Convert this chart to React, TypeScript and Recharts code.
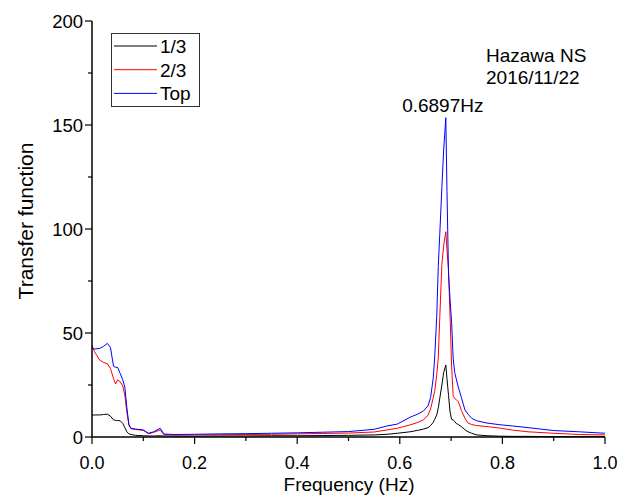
import React from 'react'
import { LineChart, Line, XAxis, YAxis, ReferenceDot } from 'recharts'

const FONT = '"Liberation Sans", Arial, sans-serif'

// frequency (Hz) sample points
const freq = [
  0, 0.005, 0.015, 0.022, 0.03, 0.036, 0.042, 0.046, 0.05, 0.055,
  0.06, 0.064, 0.068, 0.072, 0.076, 0.085, 0.1, 0.11, 0.12, 0.133,
  0.14, 0.16, 0.2, 0.25, 0.3, 0.35, 0.4, 0.45, 0.5, 0.55,
  0.575, 0.595, 0.62, 0.635, 0.646, 0.655, 0.66, 0.665, 0.668, 0.672,
  0.675, 0.678, 0.682, 0.6855, 0.6897, 0.692, 0.695, 0.698, 0.701, 0.704,
  0.707, 0.71, 0.714, 0.72, 0.727, 0.733, 0.74, 0.75, 0.77, 0.795,
  0.82, 0.85, 0.9, 0.95, 1.0,
]

// 1/3 height
const oneThird = [
  10.5, 10.6, 10.6, 10.8, 11, 10, 8.2, 8, 7.9, 7.8,
  6.5, 4.5, 2.5, 1.5, 1.2, 0.8, 0.6, 0.5, 0.5, 0.6,
  0.5, 0.4, 0.4, 0.5, 0.5, 0.6, 0.6, 0.7, 0.8, 1,
  1.3, 1.8, 2.5, 3.2, 3.8, 4.5, 5.5, 7, 8.5, 10.6,
  14, 18.7, 25, 31, 34.6, 28, 20, 12, 8.5, 8.2,
  7.5, 6.5, 6, 5, 3.5, 2.5, 1.8, 1, 0.6, 0.4,
  0.3, 0.3, 0.2, 0.2, 0.2,
]

// 2/3 height
const twoThird = [
  44.2, 41, 37, 35.9, 35.2, 33, 28, 25.5, 27.5, 26.5,
  24.5, 20, 12, 5.5, 4, 3.6, 3.2, 1.6, 2.2, 3.4,
  1.2, 0.9, 1, 1.1, 1.2, 1.3, 1.5, 1.7, 1.9, 2.4,
  3.4, 4.2, 5.8, 7, 8.2, 10.5, 13.5, 18.7, 22, 30,
  38, 58, 83, 92, 98.7, 90, 80, 58, 34, 20,
  18.5, 18, 17, 12.8, 9, 6.7, 6, 5.5, 5, 4.3,
  3.3, 2.5, 1.8, 1.2, 1,
]

// top floor
const top = [
  42.5, 42.3, 42.6, 43.5, 45, 43, 34, 33.5, 33.5, 30.5,
  27.5, 24, 14, 6, 4.2, 3.8, 3.4, 1.8, 2.5, 4.2,
  1.4, 1.2, 1.3, 1.5, 1.6, 1.8, 2, 2.3, 2.6, 3.7,
  5.3, 6.2, 9.5, 11, 12.5, 15, 19, 28, 38, 58,
  82, 98, 120, 138, 153.5, 118, 78, 66, 55, 38,
  31, 28, 24, 19, 13, 11, 9, 7.8, 6.7, 5.9,
  5.3, 4.5, 3.1, 2.5, 1.8,
]

const xTicks = [0, 0.1, 0.2, 0.3, 0.4, 0.5, 0.6, 0.7, 0.8, 0.9, 1.0]
const yTicks = [0, 25, 50, 75, 100, 125, 150, 175, 200]

const series = [
  { key: 'a', name: '1/3', color: '#000000' },
  { key: 'b', name: '2/3', color: '#ff0000' },
  { key: 'c', name: 'Top', color: '#0000ff' },
]

const peakFreq = 0.6897
const peakValue = 153.5
const station = ['Hazawa NS', '2016/11/22']

const data = freq.map((f, i) => ({ f, a: oneThird[i], b: twoThird[i], c: top[i] }))

const XTick = (props: any) => {
  const { x, y, payload } = props
  const major = Math.round(payload.value * 10) % 2 === 0
  return (
    <g>
      <line x1={x} x2={x} y1={y} y2={y + (major ? 7 : 4)} stroke="#000" strokeWidth={1.2} />
      {major && (
        <text x={x} y={y + 32} textAnchor="middle" fontSize={18} fontFamily={FONT} fill="#000">
          {payload.value.toFixed(1)}
        </text>
      )}
    </g>
  )
}

const YTick = (props: any) => {
  const { x, y, payload } = props
  const major = payload.value % 50 === 0
  return (
    <g>
      <line x1={x - (major ? 7 : 4)} x2={x} y1={y} y2={y} stroke="#000" strokeWidth={1.2} />
      {major && (
        <text x={x - 9} y={y + 6.5} textAnchor="end" fontSize={18.5} fontFamily={FONT} fill="#000">
          {payload.value}
        </text>
      )}
    </g>
  )
}

export default function App() {
  return (
    <div style={{ position: 'absolute', left: 0, top: 0, width: 622, height: 497, background: '#fff', fontFamily: FONT }}>
      <LineChart width={622} height={497} data={data} margin={{ top: 21, right: 17, left: 30, bottom: 30 }}>
        <XAxis
          dataKey="f"
          type="number"
          domain={[0, 1]}
          ticks={xTicks}
          interval={0}
          height={30}
          tickSize={0}
          tickMargin={0}
          tickLine={false}
          tick={<XTick />}
          axisLine={{ stroke: '#000', strokeWidth: 1.5 }}
        />
        <YAxis
          type="number"
          domain={[0, 200]}
          ticks={yTicks}
          interval={0}
          width={62}
          tickSize={0}
          tickMargin={0}
          tickLine={false}
          tick={<YTick />}
          axisLine={{ stroke: '#000', strokeWidth: 1.5 }}
        />
        {series.map((s) => (
          <Line
            key={s.key}
            type="linear"
            dataKey={s.key}
            name={s.name}
            stroke={s.color}
            strokeWidth={1}
            dot={false}
            isAnimationActive={false}
          />
        ))}
        <ReferenceDot
          x={peakFreq}
          y={peakValue}
          r={0}
          stroke="none"
          fill="none"
          label={{ value: '0.6897Hz', position: 'top', offset: 6, dx: -3, fontSize: 19, fontFamily: FONT, fill: '#000' }}
        />
      </LineChart>

      {/* legend, station text and axis titles */}
      <svg width={622} height={497} style={{ position: 'absolute', left: 0, top: 0, pointerEvents: 'none' }}>
        <rect x={111.5} y={33.5} width={88} height={73} fill="#fff" stroke="#333" strokeWidth={1} />
        {series.map((s, i) => {
          const cy = 46 + i * 23.7
          return (
            <g key={s.key}>
              <line x1={114} x2={157} y1={cy} y2={cy} stroke={s.color} strokeWidth={1} />
              <text x={160} y={cy + 7} fontSize={19} fontFamily={FONT} fill="#000">{s.name}</text>
            </g>
          )
        })}
        {station.map((t, i) => (
          <text key={t} x={486} y={61.5 + i * 22} fontSize={19} fontFamily={FONT} fill="#000">{t}</text>
        ))}
        <text
          x={33}
          y={221}
          transform="rotate(-90, 33, 221)"
          textAnchor="middle"
          fontSize={21}
          fontFamily={FONT}
          fill="#000"
        >
          Transfer function
        </text>
        <text x={349} y={491} textAnchor="middle" fontSize={19} fontFamily={FONT} fill="#000">
          Frequency (Hz)
        </text>
      </svg>
    </div>
  )
}
